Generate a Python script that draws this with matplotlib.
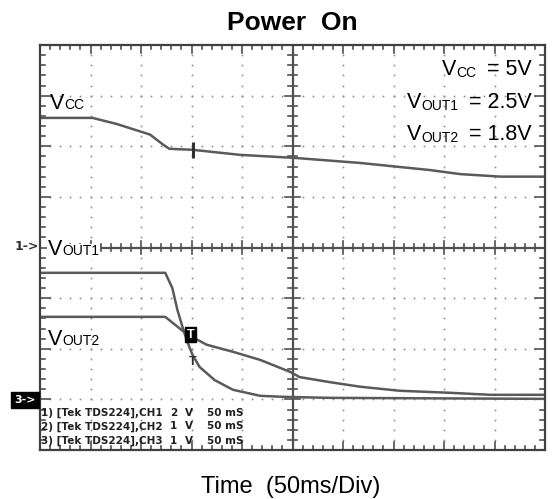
import numpy as np
import matplotlib
matplotlib.use("Agg")
import matplotlib.pyplot as plt

plt.rcParams['font.family'] = ['Liberation Sans', 'DejaVu Sans']

# ---- data (time in ms, amplitude in screen divisions, 0 = bottom) ----
vcc_t = [0, 52, 76, 109, 122, 128, 151, 198, 252, 317, 386, 416, 456, 500]
vcc_v = [6.56, 6.56, 6.44, 6.23, 6.03, 5.95, 5.93, 5.83, 5.77, 5.67, 5.53, 5.45, 5.40, 5.40]

vout1_t = [0, 124, 131, 136, 142, 147, 151, 158, 173, 191, 218, 241, 287, 500]
vout1_v = [3.50, 3.50, 3.20, 2.77, 2.37, 2.08, 1.88, 1.64, 1.38, 1.19, 1.07, 1.05, 1.03, 1.01]

vout2_t = [0, 124, 134, 144, 149, 165, 191, 218, 248, 257, 287, 317, 356, 406, 446, 500]
vout2_v = [2.63, 2.63, 2.47, 2.31, 2.25, 2.08, 1.94, 1.78, 1.54, 1.44, 1.34, 1.25, 1.17, 1.13, 1.09, 1.09]

settings_names = ["CC", "OUT1", "OUT2"]
settings_values = ["= 5V", "= 2.5V", "= 1.8V"]

info_lines = ["1) [Tek TDS224],CH1", "2) [Tek TDS224],CH2", "3) [Tek TDS224],CH3"]
info_volts = ["2", "1", "1"]
info_time = "50 mS"

W, H = 560, 499
fig = plt.figure(figsize=(W / 100, H / 100), dpi=100)
L, R, T, B = 40, 545, 45, 450
ax = fig.add_axes([L / W, 1 - B / H, (R - L) / W, (B - T) / H])
ax.set_xlim(0, 500)
ax.set_ylim(0, 8)
ax.set_xticks([])
ax.set_yticks([])
for s in ax.spines.values():
    s.set_color('#404040')
    s.set_linewidth(1.6)

# dotted graticule
fine_x = np.arange(0, 500.01, 10)
fine_y = np.arange(0, 8.001, 0.2)
for k in range(1, 10):
    if k == 5:
        continue
    ax.plot(np.full_like(fine_y, k * 50), fine_y, ls='none', marker='s', ms=1.2, color='#8a8a8a', mec='none')
for k in range(1, 8):
    if k == 4:
        continue
    ax.plot(fine_x, np.full_like(fine_x, k), ls='none', marker='s', ms=1.2, color='#8a8a8a', mec='none')

# centre cross axes and border ticks
ax.plot([14, 500], [4, 4], color='#505050', lw=1.6)
ax.plot([250, 250], [0, 8], color='#505050', lw=1.6)
for xv in fine_x:
    big = abs(xv / 50 - round(xv / 50)) < 1e-6
    h = 0.12 if big else 0.07
    if xv > 14:
        ax.plot([xv, xv], [4 - h, 4 + h], color='#505050', lw=1.2)
    hb = 0.16 if big else 0.08
    ax.plot([xv, xv], [0, hb], color='#505050', lw=1.2)
    ax.plot([xv, xv], [8 - hb, 8], color='#505050', lw=1.2)
for yv in fine_y:
    big = abs(yv - round(yv)) < 1e-6
    h = 7.5 if big else 4.5
    ax.plot([250 - h, 250 + h], [yv, yv], color='#505050', lw=1.2)
    hb = 10 if big else 5
    ax.plot([0, hb], [yv, yv], color='#505050', lw=1.2)
    ax.plot([500 - hb, 500], [yv, yv], color='#505050', lw=1.2)

# traces
tc = '#5a5a5a'
ax.plot(vcc_t, vcc_v, color=tc, lw=1.8)
ax.plot(vout1_t, vout1_v, color=tc, lw=1.8)
ax.plot(vout2_t, vout2_v, color=tc, lw=1.8)

# trigger markers
ax.plot([151], [5.93], marker='|', ms=11, mew=2.2, color='#303030')
ax.text(151, 1.86, 'T', fontsize=9, fontweight='bold', ha='center', va='top', color='#303030')
ax.text(149, 2.28, 'T', fontsize=9, fontweight='bold', ha='center', va='center', color='white',
        bbox=dict(boxstyle='square,pad=0.15', fc='black', ec='black'))

FS_BIG, FS_SUB = 15.5, 10


def label_left(x, y, sub, bg=False):
    kw = {}
    if bg:
        kw['bbox'] = dict(boxstyle='square,pad=0.05', fc='white', ec='none')
    v = ax.text(x, y, 'V', fontsize=FS_BIG, va='baseline', ha='left', **kw)
    ax.annotate(sub, xy=(1, 0), xycoords=v, ha='left', va='bottom', fontsize=FS_SUB,
                xytext=(0, 1.2), textcoords='offset points', **kw)


label_left(10, 6.74, 'CC')
label_left(8, 3.85, 'OUT1', bg=True)
label_left(8, 2.08, 'OUT2')

ys_set = [7.41, 6.76, 6.13]
for name, val, y in zip(settings_names, settings_values, ys_set):
    eq = ax.text(487, y, val, fontsize=FS_BIG, va='baseline', ha='right')
    sb = ax.annotate(name, xy=(0, 0), xycoords=eq, ha='right', va='bottom', fontsize=FS_SUB,
                     xytext=(-8, 0), textcoords='offset points')
    ax.annotate('V', xy=(0, 0), xycoords=sb, ha='right', va='bottom', fontsize=FS_BIG)

# scope info lines
ys = [0.68, 0.41, 0.12]
for i in range(3):
    kw = dict(fontsize=7.5, fontweight='bold', family='DejaVu Sans', va='baseline', color='#202020')
    ax.text(1, ys[i], info_lines[i], ha='left', **kw)
    ax.text(129, ys[i], info_volts[i], ha='left', **kw)
    ax.text(144, ys[i], 'V', ha='left', **kw)
    ax.text(165, ys[i], info_time, ha='left', **kw)

# ground markers outside the axes
fig.text(27 / W, 1 - 246 / H, '1->', fontsize=9, fontweight='bold', family='DejaVu Sans',
         ha='center', va='center', color='#303030')
fig.text(25 / W, 1 - 400 / H, '3->', fontsize=8, fontweight='bold', family='DejaVu Sans',
         ha='center', va='center', color='white',
         bbox=dict(boxstyle='square,pad=0.25', fc='black', ec='black'))

fig.text(292 / W, 1 - 30 / H, 'Power  On', fontsize=19, fontweight='bold', ha='center', va='baseline')
fig.text(291 / W, 1 - 493 / H, 'Time  (50ms/Div)', fontsize=17, ha='center', va='baseline')

fig.savefig('out.png', dpi=100, facecolor='white')
